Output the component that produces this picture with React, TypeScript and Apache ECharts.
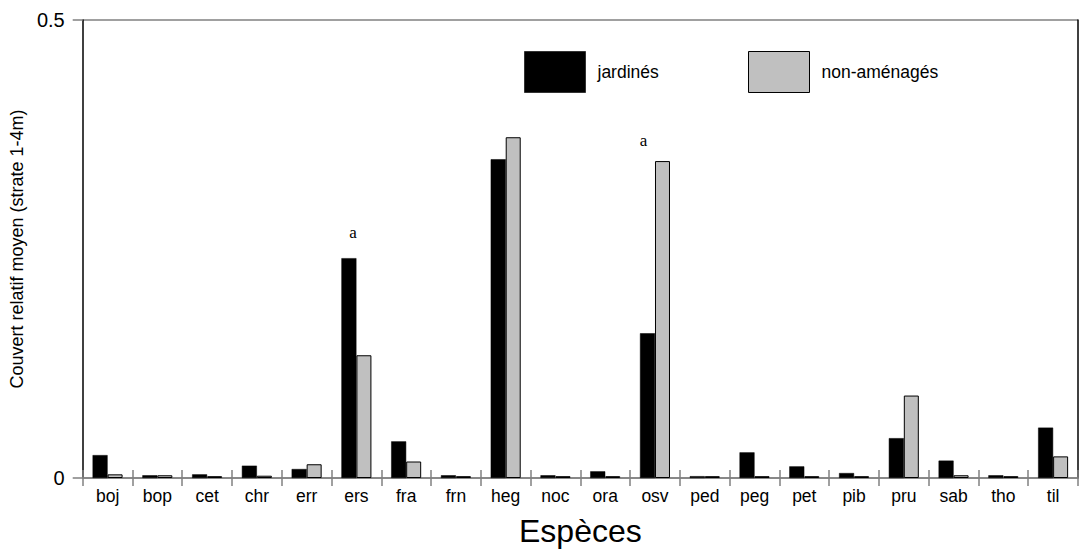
import React, { useEffect, useRef } from "react";
import * as echarts from "echarts";

const categories = ["boj", "bop", "cet", "chr", "err", "ers", "fra", "frn", "heg", "noc", "ora", "osv", "ped", "peg", "pet", "pib", "pru", "sab", "tho", "til"];
const jardines = [0.025, 0.003, 0.004, 0.0135, 0.0098, 0.240, 0.040, 0.003, 0.348, 0.003, 0.0073, 0.158, 0.002, 0.028, 0.0127, 0.0054, 0.0435, 0.019, 0.003, 0.055];
const nonAmenages = [0.004, 0.003, 0.002, 0.0025, 0.015, 0.134, 0.018, 0.002, 0.372, 0.002, 0.002, 0.346, 0.002, 0.002, 0.002, 0.002, 0.090, 0.003, 0.002, 0.0236];
const yTicks = [0, 0.5];
const annotations: Record<string, { series: number; text: string; distance: number; dx: number }> = {
  ers: { series: 0, text: "a", distance: 17, dx: 4 },
  osv: { series: 1, text: "a", distance: 12, dx: -19 },
};

const FONT = "'Liberation Sans', Arial, Helvetica, sans-serif";

function withLabels(values: number[], seriesIdx: number) {
  return values.map((v, i) => {
    const ann = annotations[categories[i]];
    if (ann && ann.series === seriesIdx) {
      return {
        value: v,
        label: {
          show: true,
          position: "top",
          distance: ann.distance,
          offset: [ann.dx, 0],
          formatter: ann.text,
          fontFamily: "'Liberation Serif', 'DejaVu Serif', serif",
          fontSize: 17,
          color: "#000",
        },
      };
    }
    return v;
  });
}

export default function App() {
  const ref = useRef<HTMLDivElement>(null);
  useEffect(() => {
    if (!ref.current) return;
    const chart = echarts.init(ref.current, null, { renderer: "svg" });
    const tickStyle = { color: "#808080", width: 1.5 };
    const legendText = { fontFamily: FONT, fontSize: 17.5, color: "#000", padding: [0, 0, 0, 7] };
    chart.setOption({
      animation: false,
      backgroundColor: "#fff",
      grid: { left: 82, right: 1, top: 20, bottom: 72, containLabel: false },
      legend: [
        {
          left: 524,
          top: 51,
          padding: 0,
          itemWidth: 61,
          itemHeight: 41,
          icon: "rect",
          textStyle: legendText,
          data: [{ name: "jardinés", itemStyle: { color: "#000", borderColor: "#333", borderWidth: 1 } }],
        },
        {
          left: 748,
          top: 51,
          padding: 0,
          itemWidth: 61,
          itemHeight: 41,
          icon: "rect",
          textStyle: legendText,
          data: [{ name: "non-aménagés", itemStyle: { color: "#c0c0c0", borderColor: "#000", borderWidth: 1 } }],
        },
      ],
      xAxis: [
        {
          type: "category",
          data: categories,
          position: "bottom",
          boundaryGap: true,
          name: "Espèces",
          nameLocation: "middle",
          nameGap: 37,
          nameTextStyle: { fontFamily: FONT, fontSize: 32, color: "#000" },
          axisLine: { show: true, lineStyle: tickStyle },
          axisTick: { show: false },
          axisLabel: { fontFamily: FONT, fontSize: 17.5, color: "#000", margin: 9 },
        },
        {
          type: "category",
          data: categories,
          position: "bottom",
          offset: -8,
          boundaryGap: true,
          axisLine: { show: false },
          axisTick: { show: true, length: 16, lineStyle: tickStyle },
          axisLabel: { show: false },
        },
      ],
      yAxis: [
        {
          type: "value",
          min: 0,
          max: 0.5,
          interval: 0.5,
          name: "Couvert relatif moyen (strate 1-4m)",
          nameLocation: "middle",
          nameGap: 53,
          nameTextStyle: { fontFamily: FONT, fontSize: 18, color: "#000" },
          axisLine: { show: true, lineStyle: { color: "#000", width: 1.5 } },
          axisTick: { show: true, length: 10, lineStyle: tickStyle },
          axisLabel: {
            fontFamily: FONT,
            fontSize: 20,
            color: "#000",
            margin: 18,
            formatter: (v: number) => (yTicks.includes(v) ? String(v) : ""),
          },
          splitLine: { show: true, lineStyle: tickStyle },
        },
        {
          type: "value",
          min: 0,
          max: 0.5,
          interval: 0.5,
          position: "right",
          axisLine: { show: true, lineStyle: { color: "#000", width: 1.5 } },
          axisTick: { show: false },
          axisLabel: { show: false },
          splitLine: { show: false },
        },
      ],
      series: [
        {
          name: "jardinés",
          type: "bar",
          xAxisIndex: 0,
          yAxisIndex: 0,
          barWidth: 15,
          barGap: "0%",
          itemStyle: { color: "#000", borderColor: "#000", borderWidth: 0.5 },
          data: withLabels(jardines, 0),
        },
        {
          name: "non-aménagés",
          type: "bar",
          xAxisIndex: 0,
          yAxisIndex: 0,
          barWidth: 15,
          barGap: "0%",
          itemStyle: { color: "#c0c0c0", borderColor: "#000", borderWidth: 1 },
          data: withLabels(nonAmenages, 1),
        },
      ],
    });
    return () => chart.dispose();
  }, []);
  return <div ref={ref} style={{ position: "fixed", left: 0, top: 0, width: 1079, height: 552 }} />;
}
